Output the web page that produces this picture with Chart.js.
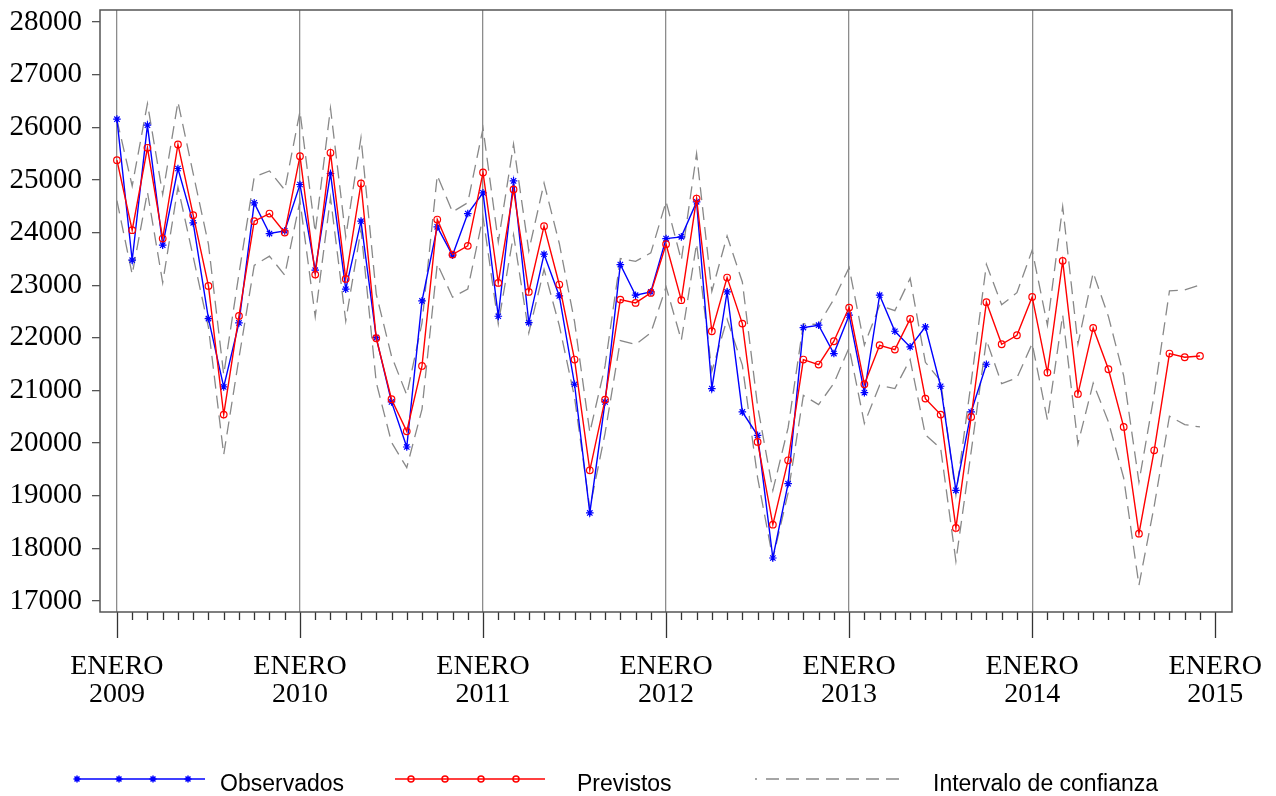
<!DOCTYPE html>
<html>
<head>
<meta charset="utf-8">
<script src="https://cdn.jsdelivr.net/npm/chart.js@4.4.1/dist/chart.umd.min.js"></script>
<style>
  html, body { margin: 0; padding: 0; background: #ffffff; }
  canvas { display: block; }
</style>
</head>
<body>
<canvas id="serie" width="1276" height="796"></canvas>
<script>
// monthly series, index 0 = ENERO 2009
var first_year = 2009
var n_months = 72

var observados = [
  26156, 23475, 26042, 23760, 25218, 24185, 22366, 21067, 22284, 24565, 23982, 24033,
  24914, 23285, 25123, 22924, 24217, 22005, 20782, 19926, 22702, 24109, 23570, 24362,
  24755, 22410, 24983, 22290, 23589, 22797, 21118, 18672, 20782, 23393, 22810, 22873,
  23887, 23919, 24584, 21035, 22873, 20592, 20148, 17816, 19229, 22195, 22240, 21701,
  22430, 20959, 22810, 22125, 21828, 22208, 21080, 19103, 20592, 21498
]

var previstos = [
  25376, 24046, 25611, 23887, 25674, 24331, 22987, 20541, 22417, 24217, 24362, 24001,
  25452, 23203, 25516, 23120, 24933, 21992, 20833, 20224, 21466, 24248, 23583, 23748,
  25142, 23044, 24819, 22873, 24122, 23013, 21587, 19483, 20826, 22727, 22664, 22854,
  23779, 22715, 24647, 22125, 23146, 22271, 20022, 18450, 19673, 21587, 21492, 21935,
  22575, 21118, 21859, 21777, 22360, 20845, 20541, 18387, 20497, 22677, 21878, 22049,
  22778, 21340, 23463, 20934, 22189, 21403, 20307, 18279, 19863, 21701, 21631, 21656
]

var ic_superior = [
  26146, 24886, 26451, 24727, 26484, 25121, 23777, 21301, 23217, 25057, 25172, 24811,
  26302, 24003, 26366, 23920, 25803, 22832, 21653, 20914, 22286, 25088, 24393, 24568,
  25982, 23824, 25679, 23653, 24942, 23793, 22307, 20203, 21466, 23507, 23454, 23614,
  24589, 23475, 25502, 22885, 23936, 23061, 20702, 19100, 20293, 22267, 22252, 22735,
  23335, 21863, 22619, 22517, 23130, 21535, 21181, 19017, 21157, 23397, 22628, 22859,
  23665, 22240, 24493, 21884, 23239, 22403, 21277, 19259, 20923, 22891, 22911, 23006
]

var ic_inferior = [
  24606, 23206, 24771, 23047, 24864, 23541, 22197, 19781, 21617, 23377, 23552, 23191,
  24602, 22403, 24666, 22320, 24063, 21152, 20013, 19534, 20646, 23408, 22773, 22928,
  24302, 22264, 23959, 22093, 23302, 22233, 20867, 18763, 20186, 21947, 21874, 22094,
  22969, 21955, 23792, 21365, 22356, 21481, 19342, 17800, 19053, 20907, 20732, 21135,
  21815, 20373, 21099, 21037, 21590, 20155, 19901, 17757, 19837, 21957, 21128, 21239,
  21891, 20440, 22433, 19984, 21139, 20403, 19337, 17299, 18803, 20511, 20351, 20306
]

var y_ticks = [17000, 18000, 19000, 20000, 21000, 22000, 23000, 24000, 25000, 26000, 27000, 28000]
var mes_label = "ENERO"

var serif = "'Liberation Serif', 'Times New Roman', serif"
var sans = "'Liberation Sans', Arial, sans-serif"

function toPoints(arr){
    return arr.map(function(v, i){ return {x: i, y: v} })
}

// month tick marks under the axis, long ones at each January
var monthTicks = {
    id: 'monthTicks',
    afterDraw: function(chart){
        var ctx = chart.ctx
        var xs = chart.scales.x
        var area = chart.chartArea
        ctx.save()
        ctx.strokeStyle = '#333333'
        ctx.lineWidth = 1.3
        for (var i = 0; i <= n_months; i++){
            var px = Math.round(xs.getPixelForValue(i)) + 0.5
            var len = (i % 12 === 0) ? 26 : 8
            ctx.beginPath()
            ctx.moveTo(px, area.bottom)
            ctx.lineTo(px, area.bottom + len)
            ctx.stroke()
        }
        // frame
        ctx.strokeStyle = '#555555'
        ctx.lineWidth = 1.5
        ctx.strokeRect(area.left, area.top, area.right - area.left, area.bottom - area.top)
        ctx.restore()
    }
}

// legend row at the bottom
var bottomLegend = {
    id: 'bottomLegend',
    afterDraw: function(chart){
        var ctx = chart.ctx
        var ly = 779
        ctx.save()

        ctx.lineWidth = 1.5
        ctx.strokeStyle = '#0000ff'
        ctx.beginPath(); ctx.moveTo(75, ly); ctx.lineTo(205, ly); ctx.stroke()
        ;[77, 119, 153, 188].forEach(function(x){
            Chart.helpers.drawPoint(ctx, {pointStyle: 'star', radius: 3.5, borderWidth: 1.2, rotation: 0}, x, ly)
        })

        ctx.strokeStyle = '#ff0000'
        ctx.beginPath(); ctx.moveTo(395, ly); ctx.lineTo(545, ly); ctx.stroke()
        ;[411, 445, 481, 516].forEach(function(x){
            ctx.beginPath(); ctx.arc(x, ly, 3, 0, Math.PI * 2); ctx.stroke()
        })

        ctx.strokeStyle = '#888888'
        ctx.lineWidth = 1.3
        ctx.beginPath(); ctx.moveTo(755, ly); ctx.lineTo(757, ly); ctx.stroke()
        ctx.setLineDash([13, 7])
        ctx.beginPath(); ctx.moveTo(766, ly); ctx.lineTo(905, ly); ctx.stroke()
        ctx.setLineDash([])

        ctx.fillStyle = '#000000'
        ctx.font = "23px " + sans
        ctx.textBaseline = 'middle'
        ctx.textAlign = 'left'
        ctx.fillText('Observados', 220, 785)
        ctx.fillText('Previstos', 577, 785)
        ctx.fillText('Intervalo de confianza', 933, 785)
        ctx.restore()
    }
}

var ctx = document.getElementById('serie').getContext('2d')

var chart = new Chart(ctx, {
    type: 'line',
    data: {
        datasets: [
            {
                label: 'Previstos',
                data: toPoints(previstos),
                borderColor: '#ff0000',
                borderWidth: 1.4,
                pointStyle: 'circle',
                pointRadius: 3.3,
                pointBorderWidth: 1.2,
                pointBorderColor: '#ff0000',
                pointBackgroundColor: 'rgba(255,255,255,0)',
                tension: 0,
                order: 0
            },
            {
                label: 'Observados',
                data: toPoints(observados),
                borderColor: '#0000ff',
                borderWidth: 1.4,
                pointStyle: 'star',
                pointRadius: 3.8,
                pointBorderWidth: 1.2,
                pointBorderColor: '#0000ff',
                pointBackgroundColor: '#0000ff',
                tension: 0,
                order: 1
            },
            {
                label: 'Intervalo de confianza',
                data: toPoints(ic_superior),
                borderColor: '#888888',
                borderWidth: 1.3,
                borderDash: [13, 7],
                pointRadius: 0,
                tension: 0,
                order: 2
            },
            {
                label: 'Intervalo de confianza (inf)',
                data: toPoints(ic_inferior),
                borderColor: '#888888',
                borderWidth: 1.3,
                borderDash: [13, 7],
                pointRadius: 0,
                tension: 0,
                order: 3
            }
        ]
    },
    options: {
        responsive: false,
        animation: false,
        devicePixelRatio: 1,
        layout: { padding: { top: 10, right: 44, bottom: 0, left: 0 } },
        plugins: {
            legend: { display: false },
            tooltip: { enabled: false }
        },
        scales: {
            x: {
                type: 'linear',
                min: -1.11,
                max: 73.1,
                afterBuildTicks: function(scale){
                    var t = []
                    for (var i = 0; i <= n_months; i++) t.push({value: i})
                    scale.ticks = t
                },
                afterFit: function(scale){
                    scale.height = 184
                    scale.paddingLeft = 0
                    scale.paddingRight = 0
                },
                border: { display: false },
                grid: {
                    drawTicks: false,
                    lineWidth: 1.3,
                    color: function(c){
                        if (c.tick && c.tick.value % 12 === 0 && c.tick.value < n_months) return '#8c8c8c'
                        return 'rgba(0,0,0,0)'
                    }
                },
                ticks: {
                    autoSkip: false,
                    maxRotation: 0,
                    minRotation: 0,
                    padding: 41,
                    color: '#000000',
                    font: { family: serif, size: 28, lineHeight: 1.0 },
                    callback: function(v){
                        if (v % 12 !== 0) return ''
                        return [mes_label, String(first_year + v / 12)]
                    }
                }
            },
            y: {
                min: 16790,
                max: 28230,
                afterBuildTicks: function(scale){
                    scale.ticks = y_ticks.map(function(v){ return {value: v} })
                },
                afterFit: function(scale){
                    scale.width = 100
                    scale.paddingTop = 0
                    scale.paddingBottom = 0
                },
                border: { display: false },
                grid: {
                    drawOnChartArea: false,
                    drawTicks: true,
                    tickLength: 8,
                    lineWidth: 1.3,
                    color: '#555555'
                },
                ticks: {
                    padding: 10,
                    color: '#000000',
                    font: { family: serif, size: 29 },
                    callback: function(v){ return String(v) }
                }
            }
        }
    },
    plugins: [monthTicks, bottomLegend]
})
</script>
</body>
</html>
